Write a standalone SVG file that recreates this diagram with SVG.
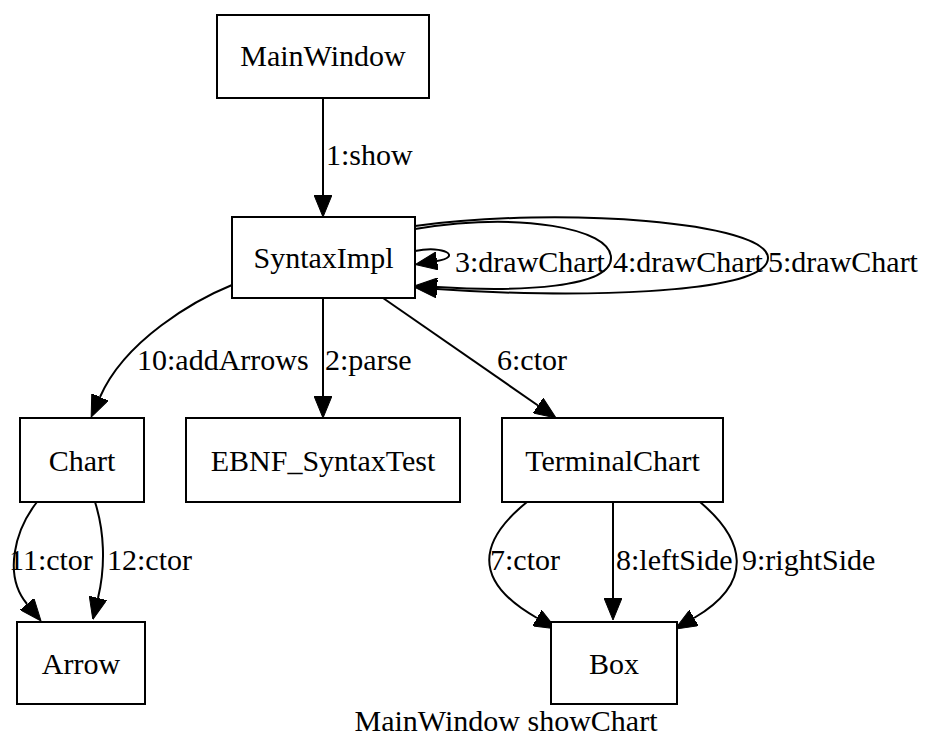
<svg xmlns="http://www.w3.org/2000/svg" width="928" height="745" viewBox="0 0 928 745">
<style>
text{font-family:"Liberation Serif","Times New Roman",serif;font-size:30px;fill:#000}
.n rect{fill:#fff;stroke:#000;stroke-width:2}
.n text{text-anchor:middle}
#edges path{fill:none;stroke:#000;stroke-width:2}
</style>
<defs>
<marker id="ah" viewBox="0 0 22 18" refX="0" refY="9" markerWidth="22" markerHeight="18" markerUnits="userSpaceOnUse" orient="auto">
<path d="M0,0 L22,9 L0,18 z" fill="#000" stroke="#000" stroke-width="1"/>
</marker>
</defs>
<rect width="928" height="745" fill="#fff"/>
<g id="edges">
<path d="M323,98 L323,195" marker-end="url(#ah)"/>
<text x="326" y="165">1:show</text>
<path d="M323,298 L323,396" marker-end="url(#ah)"/>
<text x="325" y="370">2:parse</text>
<path d="M383,298 L538,405.5" marker-end="url(#ah)"/>
<text x="497" y="370">6:ctor</text>
<path d="M232,285 C195,300 125,340 100,397" marker-end="url(#ah)"/>
<text x="137" y="370">10:addArrows</text>
<path d="M415,251 C445,245 462,257 437,261" marker-end="url(#ah)"/>
<text x="455" y="272">3:drawChart</text>
<path d="M415,229 C520,212 611,228 611,258 C611,288 520,292 437,287" marker-end="url(#ah)"/>
<text x="613" y="272">4:drawChart</text>
<path d="M415,226 C560,206 768,222 768,258 C768,296 560,298 437,289" marker-end="url(#ah)"/>
<text x="768" y="272">5:drawChart</text>
<path d="M37,502 C15,530 3,575 27,604" marker-end="url(#ah)"/>
<text x="9" y="570">11:ctor</text>
<path d="M95,502 C104,530 106,565 98,598" marker-end="url(#ah)"/>
<text x="107" y="570">12:ctor</text>
<path d="M527,502 C480,540 470,580 537,618" marker-end="url(#ah)"/>
<text x="490" y="570">7:ctor</text>
<path d="M613,502 L613,598" marker-end="url(#ah)"/>
<text x="616" y="570">8:leftSide</text>
<path d="M700,502 C745,540 755,582 694,618" marker-end="url(#ah)"/>
<text x="742" y="570">9:rightSide</text>
</g>
<g id="MainWindow" class="n"><rect x="217" y="15" width="212" height="83"/><text x="323" y="66">MainWindow</text></g>
<g id="SyntaxImpl" class="n"><rect x="232" y="217" width="183" height="81"/><text x="323.5" y="268">SyntaxImpl</text></g>
<g id="Chart" class="n"><rect x="20" y="418" width="124" height="84"/><text x="82" y="471">Chart</text></g>
<g id="EBNF_SyntaxTest" class="n"><rect x="186" y="418" width="274" height="84"/><text x="323" y="471">EBNF_SyntaxTest</text></g>
<g id="TerminalChart" class="n"><rect x="502" y="418" width="221" height="84"/><text x="612.5" y="471">TerminalChart</text></g>
<g id="Arrow" class="n"><rect x="17" y="622" width="128" height="82"/><text x="81" y="674">Arrow</text></g>
<g id="Box" class="n"><rect x="551" y="622" width="126" height="82"/><text x="614" y="674">Box</text></g>
<text x="506" y="731" text-anchor="middle">MainWindow showChart</text>
</svg>
